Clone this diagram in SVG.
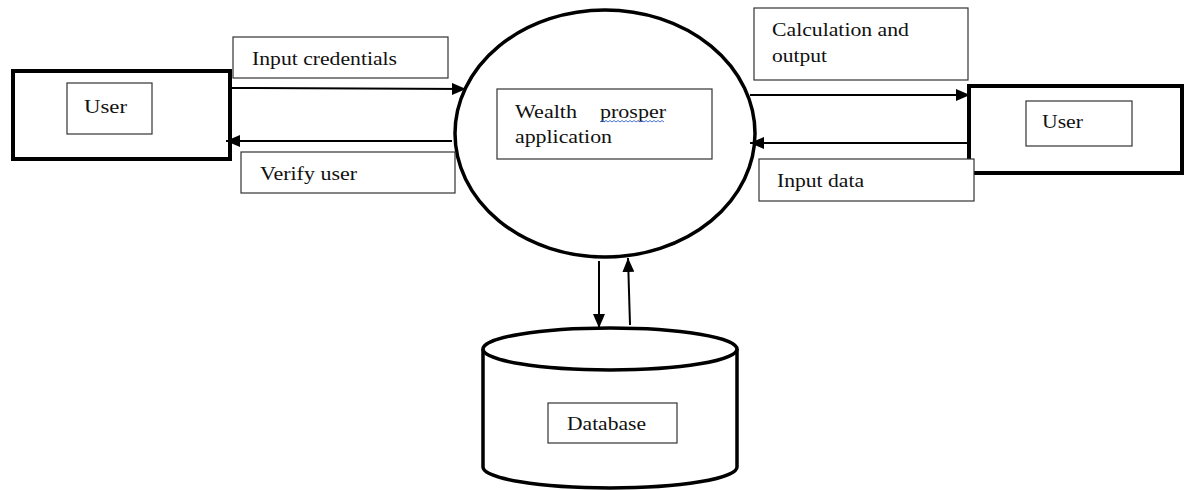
<svg xmlns="http://www.w3.org/2000/svg" width="1184" height="490" viewBox="0 0 1184 490">
<style>
.outer{fill:#fff;stroke:#000;stroke-width:4}
.thin{fill:#fff;stroke:#333;stroke-width:1.2}
.shape{fill:#fff;stroke:#000;stroke-width:3.5}
.t{font-family:'Liberation Serif','Times New Roman',serif;font-size:19px;fill:#111}
.conn{stroke:#000;stroke-width:2;fill:none}
</style>
<defs>
<marker id="ah" viewBox="0 0 14 12" refX="14" refY="6" markerWidth="14" markerHeight="12" markerUnits="userSpaceOnUse" orient="auto">
<path d="M0,0 L14,6 L0,12 Z" fill="#000"/>
</marker>
</defs>
<rect width="1184" height="490" fill="#fff"/>
<g id="user-left">
<rect class="outer" x="13" y="71" width="217" height="88"/>
<rect class="thin" x="67" y="83" width="85" height="51"/>
<text class="t" x="84" y="113" textLength="43" lengthAdjust="spacingAndGlyphs">User</text>
</g>
<g id="user-right">
<rect class="outer" x="969" y="86" width="213" height="87"/>
<rect class="thin" x="1026" y="101" width="106" height="45"/>
<text class="t" x="1042" y="128" textLength="41" lengthAdjust="spacingAndGlyphs">User</text>
</g>
<g id="app">
<ellipse class="shape" cx="605" cy="133.5" rx="150" ry="123.5"/>
<rect class="thin" x="497" y="89" width="215" height="70"/>
<text class="t" x="515" y="118" textLength="62" lengthAdjust="spacingAndGlyphs">Wealth</text>
<text class="t" x="600" y="118" textLength="66" lengthAdjust="spacingAndGlyphs">prosper</text>
<path d="M600,122 l2,-1.5 l2,1.5 l2,-1.5 l2,1.5 l2,-1.5 l2,1.5 l2,-1.5 l2,1.5 l2,-1.5 l2,1.5 l2,-1.5 l2,1.5 l2,-1.5 l2,1.5 l2,-1.5 l2,1.5 l2,-1.5 l2,1.5 l2,-1.5 l2,1.5 l2,-1.5 l2,1.5 l2,-1.5 l2,1.5 l2,-1.5 l2,1.5 l2,-1.5 l2,1.5 l2,-1.5 l2,1.5 l2,-1.5 l2,1.5" fill="none" stroke="#4a74d6" stroke-width="1"/>
<text class="t" x="515" y="143" textLength="97" lengthAdjust="spacingAndGlyphs">application</text>
</g>
<g id="database">
<path class="shape" d="M483,349 L483,467 A127,21 0 0 0 737,467 L737,349"/>
<ellipse class="shape" cx="610" cy="349" rx="127" ry="21"/>
<rect class="thin" x="548" y="403" width="129" height="40"/>
<text class="t" x="567" y="430" textLength="79" lengthAdjust="spacingAndGlyphs">Database</text>
</g>
<g id="connectors">
<line class="conn" x1="230" y1="88" x2="466" y2="89" marker-end="url(#ah)"/>
<line class="conn" x1="452" y1="141" x2="226" y2="141" marker-end="url(#ah)"/>
<line class="conn" x1="750" y1="95" x2="970" y2="95" marker-end="url(#ah)"/>
<line class="conn" x1="969" y1="143" x2="750" y2="143" marker-end="url(#ah)"/>
<line class="conn" x1="599" y1="261" x2="599" y2="328" marker-end="url(#ah)"/>
<line class="conn" x1="630" y1="325" x2="628" y2="258" marker-end="url(#ah)"/>
</g>
<g id="label-input-credentials">
<rect class="thin" x="233" y="37" width="215" height="41"/>
<text class="t" x="252" y="65" textLength="145" lengthAdjust="spacingAndGlyphs">Input credentials</text>
</g>
<g id="label-verify-user">
<rect class="thin" x="241" y="152" width="214" height="41"/>
<text class="t" x="260" y="180" textLength="97" lengthAdjust="spacingAndGlyphs">Verify user</text>
</g>
<g id="label-calculation">
<rect class="thin" x="754" y="8" width="214" height="72"/>
<text class="t" x="772" y="36" textLength="137" lengthAdjust="spacingAndGlyphs">Calculation and</text>
<text class="t" x="772" y="62" textLength="55" lengthAdjust="spacingAndGlyphs">output</text>
</g>
<g id="label-input-data">
<rect class="thin" x="759" y="159" width="215" height="42"/>
<text class="t" x="777" y="187" textLength="87" lengthAdjust="spacingAndGlyphs">Input data</text>
</g>
</svg>
